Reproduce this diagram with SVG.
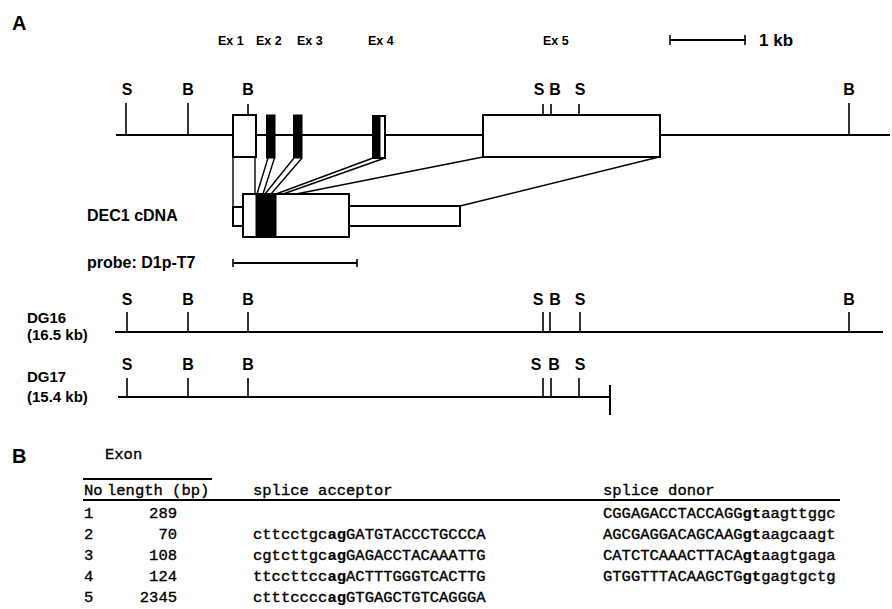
<svg xmlns="http://www.w3.org/2000/svg" width="892" height="609" viewBox="0 0 892 609">
<style>
.l{font-family:"Liberation Sans",Arial,Helvetica,sans-serif;font-weight:bold;fill:#000}
.site{font-size:16px;text-anchor:middle}
.ex{font-size:12.5px}
.t{font-family:"Liberation Mono","DejaVu Sans Mono",monospace;font-size:15.5px;fill:#000;stroke:#000;stroke-width:0.35}
.b{font-weight:bold;stroke-width:0.2}
.ln{stroke:#000;stroke-width:2;fill:none}
.tk{stroke:#000;stroke-width:1.6}
.box{fill:#fff;stroke:#000;stroke-width:2}
.blk{fill:#000;stroke:#000;stroke-width:1}
.cn{stroke:#000;stroke-width:1.4;fill:none}
</style>
<rect width="892" height="609" fill="#fff"/>

<!-- Panel A -->
<text class="l" x="12" y="30" font-size="20">A</text>

<g id="exon-labels">
<text class="l ex" x="218" y="45">Ex 1</text>
<text class="l ex" x="256" y="45">Ex 2</text>
<text class="l ex" x="297" y="45">Ex 3</text>
<text class="l ex" x="368" y="45">Ex 4</text>
<text class="l ex" x="543" y="45">Ex 5</text>
</g>

<g id="scale-bar">
<line class="ln" x1="670" y1="40" x2="745" y2="40" stroke-width="2.5"/>
<line class="tk" x1="670" y1="35" x2="670" y2="45"/>
<line class="tk" x1="745" y1="35" x2="745" y2="45"/>
<text class="l" x="759" y="46" font-size="17">1 kb</text>
</g>

<g id="genomic-map">
<line class="ln" x1="116" y1="135" x2="233" y2="135"/>
<line class="ln" x1="256" y1="135" x2="483" y2="135"/>
<line class="ln" x1="660" y1="135" x2="890" y2="135"/>
<line class="tk" x1="126" y1="103" x2="126" y2="135"/>
<line class="tk" x1="188" y1="103" x2="188" y2="135"/>
<line class="tk" x1="248" y1="104" x2="248" y2="114"/>
<line class="tk" x1="543" y1="104" x2="543" y2="115"/>
<line class="tk" x1="551" y1="104" x2="551" y2="115"/>
<line class="tk" x1="579" y1="104" x2="579" y2="115"/>
<line class="tk" x1="849" y1="103" x2="849" y2="135"/>
<text class="l site" x="127" y="95">S</text>
<text class="l site" x="188" y="95">B</text>
<text class="l site" x="248" y="95">B</text>
<text class="l site" x="539" y="95">S</text>
<text class="l site" x="555" y="95">B</text>
<text class="l site" x="580" y="95">S</text>
<text class="l site" x="849" y="95">B</text>
</g>

<g id="exon1"><rect class="box" x="233" y="115" width="23" height="42"/></g>
<g id="exon2"><rect class="blk" x="266.5" y="115" width="8.5" height="43"/></g>
<g id="exon3"><rect class="blk" x="293.5" y="115" width="8.5" height="43"/></g>
<g id="exon4"><rect class="box" x="373" y="116" width="12" height="42"/><rect class="blk" x="373" y="116" width="7" height="42"/></g>
<g id="exon5"><rect class="box" x="483" y="115" width="177" height="42" stroke-width="2.6"/></g>

<g id="connectors">
<line class="cn" x1="233" y1="157" x2="233" y2="207"/>
<line class="cn" x1="255" y1="157" x2="255" y2="194"/>
<line class="cn" x1="268" y1="158" x2="257" y2="194"/>
<line class="cn" x1="274.5" y1="158" x2="263" y2="194"/>
<line class="cn" x1="294" y1="158" x2="265" y2="194"/>
<line class="cn" x1="302" y1="158" x2="271" y2="194"/>
<line class="cn" x1="373" y1="158" x2="276" y2="194"/>
<line class="cn" x1="385" y1="158" x2="283" y2="194"/>
<line class="cn" x1="483" y1="157" x2="296" y2="194"/>
<line class="cn" x1="659" y1="157" x2="460" y2="206"/>
</g>

<g id="cdna">
<rect class="box" x="233" y="207" width="10" height="19"/>
<rect class="box" x="349" y="206" width="111" height="20"/>
<rect class="box" x="243" y="194" width="106" height="43"/>
<rect class="blk" x="256" y="195" width="20" height="41"/>
<text class="l" x="87" y="221" font-size="16">DEC1 cDNA</text>
</g>

<g id="probe">
<text class="l" x="87" y="268" font-size="16">probe: D1p-T7</text>
<line class="ln" x1="233" y1="263" x2="357" y2="263"/>
<line class="tk" x1="233" y1="259" x2="233" y2="267"/>
<line class="tk" x1="357" y1="259" x2="357" y2="267"/>
</g>

<g id="DG16">
<text class="l" x="27" y="323" font-size="15">DG16</text>
<text class="l" x="27" y="340" font-size="15">(16.5 kb)</text>
<line class="ln" x1="115" y1="332" x2="883" y2="332" stroke-width="3.5"/>
<line class="tk" x1="127" y1="312" x2="127" y2="332"/>
<line class="tk" x1="188" y1="312" x2="188" y2="332"/>
<line class="tk" x1="248" y1="312" x2="248" y2="332"/>
<line class="tk" x1="543" y1="312" x2="543" y2="332"/>
<line class="tk" x1="550" y1="312" x2="550" y2="332"/>
<line class="tk" x1="580" y1="312" x2="580" y2="332"/>
<line class="tk" x1="849" y1="312" x2="849" y2="332"/>
<text class="l site" x="127" y="305">S</text>
<text class="l site" x="188" y="305">B</text>
<text class="l site" x="248" y="305">B</text>
<text class="l site" x="538" y="305">S</text>
<text class="l site" x="555" y="305">B</text>
<text class="l site" x="580" y="305">S</text>
<text class="l site" x="849" y="305">B</text>
</g>

<g id="DG17">
<text class="l" x="27" y="382" font-size="15">DG17</text>
<text class="l" x="27" y="402" font-size="15">(15.4 kb)</text>
<line class="ln" x1="118" y1="397" x2="610" y2="397" stroke-width="3"/>
<line class="ln" x1="610" y1="385" x2="610" y2="415" stroke-width="3.5"/>
<line class="tk" x1="127" y1="378" x2="127" y2="397"/>
<line class="tk" x1="188" y1="378" x2="188" y2="397"/>
<line class="tk" x1="248" y1="378" x2="248" y2="397"/>
<line class="tk" x1="543" y1="378" x2="543" y2="397"/>
<line class="tk" x1="551" y1="378" x2="551" y2="397"/>
<line class="tk" x1="579" y1="378" x2="579" y2="397"/>
<text class="l site" x="127" y="370">S</text>
<text class="l site" x="188" y="370">B</text>
<text class="l site" x="248" y="370">B</text>
<text class="l site" x="536" y="370">S</text>
<text class="l site" x="554" y="370">B</text>
<text class="l site" x="580" y="370">S</text>
</g>

<!-- Panel B -->
<text class="l" x="12" y="463" font-size="20">B</text>
<g id="table">
<text class="t" x="105" y="459">Exon</text>
<line class="ln" x1="83" y1="479" x2="212" y2="479" stroke-width="1.5"/>
<text class="t" x="84" y="495">No</text>
<text class="t" x="107" y="495">length (bp)</text>
<text class="t" x="253" y="495">splice acceptor</text>
<text class="t" x="603" y="495">splice donor</text>
<line class="ln" x1="83" y1="500" x2="840" y2="500" stroke-width="1.5"/>

<text class="t" x="84" y="518">1</text>
<text class="t" x="177" y="518" text-anchor="end">289</text>
<text class="t" x="603" y="518">CGGAGACCTACCAGG<tspan class="b">gt</tspan>aagttggc</text>

<text class="t" x="84" y="539">2</text>
<text class="t" x="177" y="539" text-anchor="end">70</text>
<text class="t" x="253" y="539">cttcctgc<tspan class="b">ag</tspan>GATGTACCCTGCCCA</text>
<text class="t" x="603" y="539">AGCGAGGACAGCAAG<tspan class="b">gt</tspan>aagcaagt</text>

<text class="t" x="84" y="560">3</text>
<text class="t" x="177" y="560" text-anchor="end">108</text>
<text class="t" x="253" y="560">cgtcttgc<tspan class="b">ag</tspan>GAGACCTACAAATTG</text>
<text class="t" x="603" y="560">CATCTCAAACTTACA<tspan class="b">gt</tspan>aagtgaga</text>

<text class="t" x="84" y="581">4</text>
<text class="t" x="177" y="581" text-anchor="end">124</text>
<text class="t" x="253" y="581">ttccttcc<tspan class="b">ag</tspan>ACTTTGGGTCACTTG</text>
<text class="t" x="603" y="581">GTGGTTTACAAGCTG<tspan class="b">gt</tspan>gagtgctg</text>

<text class="t" x="84" y="602">5</text>
<text class="t" x="177" y="602" text-anchor="end">2345</text>
<text class="t" x="253" y="602">ctttcccc<tspan class="b">ag</tspan>GTGAGCTGTCAGGGA</text>
</g>
</svg>
